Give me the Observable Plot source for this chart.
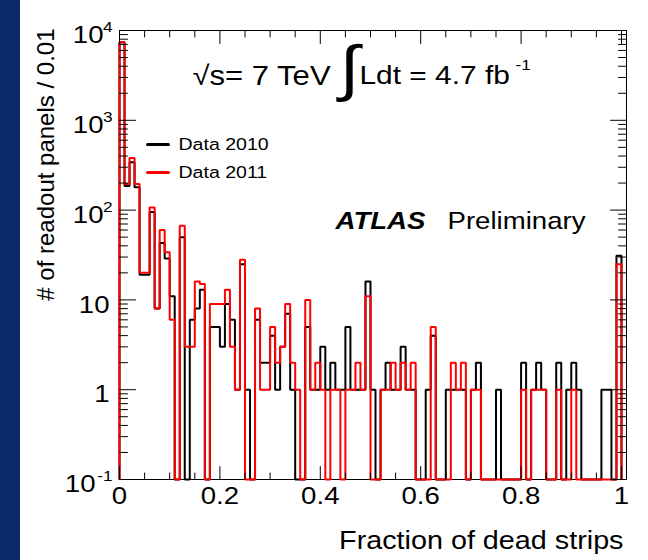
<!DOCTYPE html>
<html>
<head>
<meta charset="utf-8">
<script src="https://cdn.jsdelivr.net/npm/d3@7"></script>
<script src="https://cdn.jsdelivr.net/npm/@observablehq/plot@0.6"></script>
<style>
  html, body { margin: 0; padding: 0; background: #ffffff; }
  #chart { width: 648px; height: 560px; }
</style>
</head>
<body>
<div id="chart"></div>
<script>
// ---------------- data ----------------
const binWidth = 0.01;            // "# of readout panels / 0.01"
const seriesNames = ["Data 2010", "Data 2011"];
const seriesColors = ["#000000", "#ff0000"];

// counts per 0.01 bin of the fraction of dead strips (bin 0 = [0,0.01), ... bin 99 = [0.99,1.00])
const data2010 = [
  7400, 185, 340, 180, 19, 19, 95, 8, 43, 29,
  11, 0, 50, 0, 6, 8, 13, 0, 5, 5,
  3, 9, 6, 1, 25, 1, 0, 6, 2, 2,
  4, 1, 3, 7, 1, 0, 0, 5, 1, 1,
  3, 1, 2, 1, 1, 5, 1, 1, 1, 16,
  1, 0, 1, 2, 1, 1, 3, 1, 1, 0,
  0, 1, 4, 0, 0, 1, 1, 1, 1, 0,
  1, 2, 0, 0, 0, 1, 0, 0, 0, 0,
  2, 0, 1, 2, 1, 0, 0, 2, 0, 1,
  2, 1, 0, 0, 0, 0, 1, 1, 0, 31
];
const data2011 = [
  7400, 195, 380, 195, 20, 20, 107, 8, 60, 34,
  6, 0, 67, 3, 3, 16, 15, 0, 9, 9,
  9, 13, 3, 1, 28, 0, 0, 8, 1, 1,
  5, 2, 3, 9, 2, 1, 0, 10, 1, 2,
  1, 0, 1, 1, 0, 1, 1, 2, 1, 11,
  0, 0, 1, 1, 2, 1, 2, 1, 2, 0,
  0, 0, 5, 0, 0, 0, 2, 1, 2, 0,
  1, 1, 0, 0, 0, 0, 0, 0, 0, 0,
  1, 0, 1, 1, 1, 0, 0, 1, 0, 0,
  1, 0, 0, 0, 0, 0, 0, 0, 0, 25
];

// axes
const xDomain = [0, 1.01];
const yDomain = [0.1, 10000];
const xMajorTicks = [0, 0.2, 0.4, 0.6, 0.8, 1];
const xTickLabels = ["0", "0.2", "0.4", "0.6", "0.8", "1"];
const xMinorTicks = [0.05, 0.1, 0.15, 0.25, 0.3, 0.35, 0.45, 0.5, 0.55, 0.65, 0.7, 0.75, 0.85, 0.9, 0.95];
const yMajorTicks = [0.1, 1, 10, 100, 1000, 10000];
const yTickBase = ["10", "1", "10", "10", "10", "10"];
const yTickExp = ["-1", "", "", "2", "3", "4"];
const xTitle = "Fraction of dead strips";
const yTitle = "# of readout panels / 0.01";
const energyText = "\u221As= 7 TeV";
const lumiText = "Ldt = 4.7 fb";
const lumiExp = "-1";
const atlasText = "ATLAS";
const prelimText = "Preliminary";

// ---------------- build ----------------
const yMinorTicks = yMajorTicks.slice(0, -1).flatMap(d => [2, 3, 4, 5, 6, 7, 8, 9].map(m => d * m));
const yLabels = yMajorTicks.map((v, i) => ({v, base: yTickBase[i], exp: yTickExp[i]}));
const xLabels = xMajorTicks.map((v, i) => ({v, label: xTickLabels[i]}));

function stepVertices(values) {
  const floor = yDomain[0];
  const pts = [{x: 0, y: floor}];
  values.forEach((v, i) => {
    const y = Math.max(v, floor);
    pts.push({x: i * binWidth, y}, {x: (i + 1) * binWidth, y});
  });
  pts.push({x: values.length * binWidth, y: floor});
  return pts;
}
const series = [data2010, data2011].map((vals, i) => ({name: seriesNames[i], color: seriesColors[i], pts: stepVertices(vals)}));

const segShape = {draw(context, l) { context.moveTo(0, 0); context.lineTo(0, -l); }};
function tickMarks(values, side, length) {
  const o = {frameAnchor: side, length, anchor: "start", shape: segShape, stroke: "#000", strokeWidth: 1};
  if (side === "bottom") return Plot.vector(values, {...o, x: d => d, rotate: 0});
  if (side === "top") return Plot.vector(values, {...o, x: d => d, rotate: 180});
  if (side === "left") return Plot.vector(values, {...o, y: d => d, rotate: 90});
  return Plot.vector(values, {...o, y: d => d, rotate: -90});
}

const fontFamily = "'Liberation Sans', Arial, Helvetica, sans-serif";

const svg = Plot.plot({
  width: 648,
  height: 560,
  marginLeft: 119,
  marginRight: 22,
  marginTop: 30,
  marginBottom: 81,
  x: {domain: xDomain, axis: null},
  y: {type: "log", domain: yDomain, axis: null},
  style: {
    background: "linear-gradient(to right, #0c2a6a 0px, #0c2a6a 20px, #ffffff 20px)",
    fontFamily,
    color: "#000",
    overflow: "visible"
  },
  marks: [
    Plot.frame({stroke: "#000", strokeWidth: 1}),
    // histograms (2010 drawn first, 2011 on top)
    ...series.map(s => Plot.line(s.pts, {x: "x", y: "y", stroke: s.color, strokeWidth: 2, strokeLinejoin: "miter", strokeLinecap: "butt"})),
    // ticks on all four sides, pointing inward
    tickMarks(xMajorTicks, "bottom", 13),
    tickMarks(xMinorTicks, "bottom", 6.5),
    tickMarks(xMajorTicks, "top", 13),
    tickMarks(xMinorTicks, "top", 6.5),
    tickMarks(yMajorTicks, "left", 16),
    tickMarks(yMinorTicks, "left", 8),
    tickMarks(yMajorTicks, "right", 16),
    tickMarks(yMinorTicks, "right", 8),
    // x tick labels
    Plot.text(xLabels, {x: "v", text: "label", frameAnchor: "bottom", lineAnchor: "top", dy: 7, fontSize: 24, fill: "#000"}),
    // y tick labels: base and exponent
    Plot.text(yLabels.filter(d => d.exp === ""), {y: "v", text: "base", frameAnchor: "left", lineAnchor: "middle", textAnchor: "end", dx: -10, dy: 5, fontSize: 24, fill: "#000"}),
    Plot.text(yLabels.filter(d => d.exp.length === 1), {y: "v", text: "base", frameAnchor: "left", lineAnchor: "middle", textAnchor: "end", dx: -16, dy: 5, fontSize: 24, fill: "#000"}),
    Plot.text(yLabels.filter(d => d.exp.length === 2), {y: "v", text: "base", frameAnchor: "left", lineAnchor: "middle", textAnchor: "end", dx: -24, dy: 5, fontSize: 24, fill: "#000"}),
    Plot.text(yLabels.filter(d => d.exp !== ""), {y: "v", text: "exp", frameAnchor: "left", lineAnchor: "middle", textAnchor: "end", dx: -7, dy: -3, fontSize: 15, fill: "#000"}),
    // axis titles
    Plot.text([xTitle], {text: d => d, frameAnchor: "bottom-right", textAnchor: "end", lineAnchor: "top", dx: -3, dy: 52, fontSize: 25, fill: "#000"}),
    Plot.text([yTitle], {text: d => d, frameAnchor: "top-left", textAnchor: "end", lineAnchor: "top", rotate: -90, dx: -83, dy: -2, fontSize: 24, fill: "#000"}),
    // annotation
    Plot.text([energyText], {text: d => d, frameAnchor: "top-left", textAnchor: "start", lineAnchor: "top", dx: 73, dy: 35, fontSize: 27, fill: "#000"}),
    Plot.text(["\u222B"], {text: d => d, frameAnchor: "top-left", textAnchor: "start", lineAnchor: "top", dx: 220, dy: 14, fontSize: 62, fill: "#000"}),
    Plot.text([lumiText], {text: d => d, frameAnchor: "top-left", textAnchor: "start", lineAnchor: "top", dx: 240, dy: 35, fontSize: 26, fill: "#000"}),
    Plot.text([lumiExp], {text: d => d, frameAnchor: "top-left", textAnchor: "start", lineAnchor: "top", dx: 396, dy: 29, fontSize: 15, fill: "#000"}),
    // legend
    ...series.map((s, i) => Plot.vector([s], {frameAnchor: "top-left", dx: 28, dy: 114 + i * 28, rotate: 90, length: 21, anchor: "start", shape: segShape, stroke: s.color, strokeWidth: 3})),
    ...series.map((s, i) => Plot.text([s.name], {text: d => d, frameAnchor: "top-left", textAnchor: "start", lineAnchor: "middle", dx: 59, dy: 114 + i * 28, fontSize: 17, fill: "#000"})),
    // ATLAS Preliminary
    Plot.text([atlasText], {text: d => d, frameAnchor: "top-left", textAnchor: "start", lineAnchor: "top", dx: 216, dy: 181, fontSize: 24, fontWeight: "bold", fontStyle: "italic", fill: "#000"}),
    Plot.text([prelimText], {text: d => d, frameAnchor: "top-left", textAnchor: "start", lineAnchor: "top", dx: 328, dy: 181, fontSize: 24, fill: "#000"})
  ]
});

// the reference's lettering is slightly wider than tall: stretch horizontal text a little
const stretch = 1.15;
svg.querySelectorAll('g[aria-label="text"] text').forEach(t => {
  const tr = t.getAttribute("transform") || "";
  if (tr.includes("rotate")) return;
  t.setAttribute("transform", (tr + ` scale(${stretch},1)`).trim());
});

document.getElementById("chart").appendChild(svg);
</script>
</body>
</html>
